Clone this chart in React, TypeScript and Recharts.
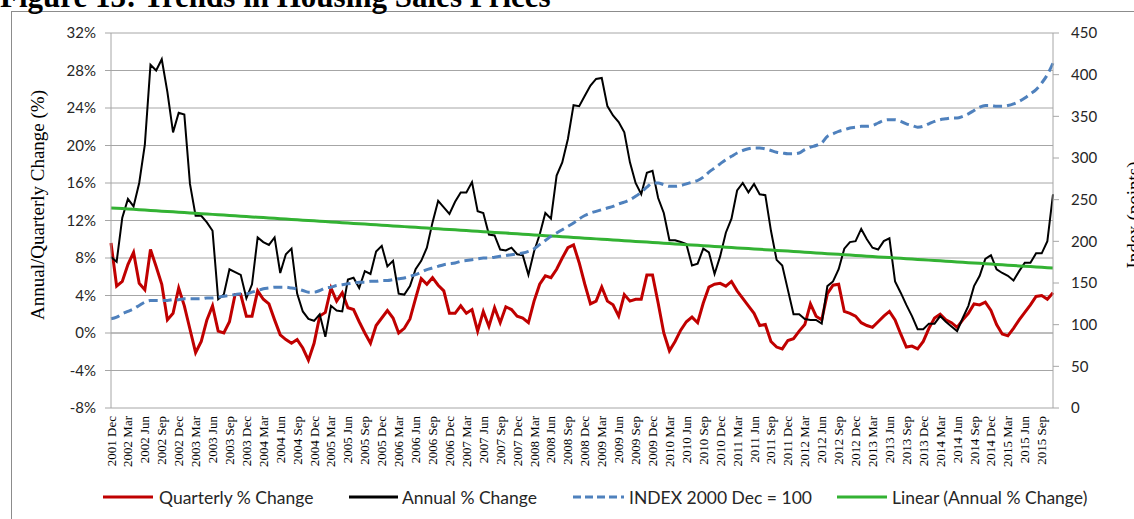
import { ComposedChart, Line, XAxis, YAxis, CartesianGrid, ReferenceLine } from "recharts";

const MONTH_NAMES = ["Jan", "Feb", "Mar", "Apr", "May", "Jun", "Jul", "Aug", "Sep", "Oct", "Nov", "Dec"];

// monthly categories, 2001 Dec .. 2015 Nov
const categories: string[] = [];
for (let i = 0; i < 168; i++) {
  const m = (11 + i) % 12;
  const y = 2001 + Math.floor((11 + i) / 12);
  categories.push(`${y} ${MONTH_NAMES[m]}`);
}

// Quarterly % change (left axis, %)
const quarterlyChange = [
  9.6, 5.0, 5.5, 7.3, 8.6, 5.3, 4.6, 8.9, 7.1, 5.2, 1.4, 2.1,
  4.8, 2.9, 0.4, -2.1, -0.9, 1.4, 2.9, 0.2, 0.0, 1.2, 4.1, 4.1,
  1.8, 1.8, 4.5, 3.6, 3.1, 1.4, -0.2, -0.7, -1.1, -0.7, -1.6, -2.9,
  -1.1, 1.8, 2.2, 4.8, 3.4, 4.3, 2.7, 2.5, 1.2, 0.0, -1.1, 0.8,
  1.6, 2.4, 1.6, 0.0, 0.5, 1.5, 3.7, 5.8, 5.2, 5.9, 5.1, 4.5,
  2.1, 2.1, 2.9, 2.1, 2.5, 0.2, 2.3, 0.7, 2.7, 1.1, 2.8, 2.5,
  1.8, 1.6, 1.1, 3.4, 5.2, 6.1, 5.9, 6.8, 8.0, 9.1, 9.4, 7.5,
  5.2, 3.1, 3.4, 4.9, 3.4, 3.0, 1.8, 4.1, 3.4, 3.6, 3.6, 6.2,
  6.2, 3.2, 0.0, -1.9, -0.9, 0.3, 1.2, 1.7, 1.1, 3.2, 4.9, 5.2,
  5.3, 5.0, 5.5, 4.5, 3.7, 2.9, 2.1, 0.8, 0.9, -0.9, -1.5, -1.7,
  -0.8, -0.6, 0.2, 0.9, 3.1, 1.8, 1.4, 4.2, 5.1, 5.2, 2.3, 2.1,
  1.8, 1.1, 0.8, 0.6, 1.2, 1.8, 2.3, 1.4, -0.1, -1.5, -1.4, -1.7,
  -0.9, 0.5, 1.6, 2.0, 1.4, 1.1, 0.6, 1.4, 2.1, 3.1, 3.0, 3.3,
  2.4, 0.9, -0.1, -0.3, 0.5, 1.4, 2.2, 3.0, 3.9, 4.0, 3.6, 4.3,
];

// Annual % change (left axis, %)
const annualChange = [
  8.1, 7.6, 12.3, 14.3, 13.5, 16.0, 20.1, 28.6, 28.0, 29.2, 25.7, 21.4,
  23.5, 23.3, 15.9, 12.5, 12.5, 11.8, 10.9, 3.6, 4.1, 6.8, 6.5, 6.2,
  3.7, 5.2, 10.2, 9.7, 9.4, 10.2, 6.4, 8.4, 9.0, 4.2, 2.3, 1.5,
  1.3, 2.0, -0.4, 2.9, 2.4, 2.3, 5.7, 5.9, 4.8, 6.6, 6.3, 8.7,
  9.3, 7.1, 7.7, 4.2, 4.1, 5.0, 6.8, 7.7, 9.1, 11.8, 14.1, 13.4,
  12.7, 14.0, 15.0, 15.0, 16.1, 13.0, 12.8, 10.5, 10.4, 8.9, 8.8, 9.1,
  8.4, 8.3, 6.2, 8.7, 10.5, 12.8, 12.2, 16.8, 18.2, 20.7, 24.3, 24.2,
  25.3, 26.4, 27.1, 27.2, 24.2, 23.2, 22.5, 21.4, 18.2, 16.0, 14.8, 17.1,
  17.3, 14.4, 12.8, 9.9, 9.9, 9.7, 9.5, 7.2, 7.4, 9.0, 8.6, 6.3,
  8.2, 10.7, 12.2, 15.2, 16.0, 15.0, 15.9, 14.8, 14.7, 10.9, 7.8, 7.2,
  4.6, 2.0, 2.0, 1.5, 1.4, 1.4, 1.0, 5.0, 5.5, 6.8, 9.0, 9.7,
  9.8, 11.1, 10.0, 9.1, 8.9, 9.8, 10.1, 5.5, 4.3, 3.0, 1.8, 0.4,
  0.4, 1.0, 1.0, 1.8, 1.2, 0.7, 0.2, 1.6, 2.9, 5.0, 6.1, 7.9,
  8.3, 6.8, 6.4, 6.1, 5.6, 6.6, 7.5, 7.5, 8.5, 8.5, 9.8, 14.8,
];

// INDEX 2000 Dec = 100 (right axis, points)
const indexPoints = [
  107, 109, 113, 116, 119, 123, 127, 129, 129, 129, 129, 130,
  130, 131, 131, 131, 131, 132, 132, 133, 134, 135, 136, 137,
  137, 139, 141, 143, 144, 145, 145, 145, 144, 143, 141, 139,
  139, 141, 144, 145, 147, 148, 149, 150, 151, 151, 152, 152,
  153, 153, 154, 155, 156, 158, 160, 163, 166, 168, 170, 172,
  173, 174, 176, 177, 178, 179, 180, 180, 181, 182, 183, 184,
  185, 186, 188, 191, 196, 201, 206, 210, 214, 218, 222, 227,
  231, 234, 236, 238, 240, 242, 245, 247, 250, 254, 259, 265,
  270, 270, 268, 266, 266, 267, 269, 271, 273, 277, 283, 288,
  293, 298, 302, 306, 309, 311, 312, 312, 311, 309, 307, 306,
  305, 305, 306, 310, 313, 315, 318, 326, 329, 332, 334, 336,
  337, 338, 338, 339, 342, 345, 346, 346, 344, 341, 339, 337,
  338, 341, 344, 346, 347, 348, 348, 350, 353, 357, 361, 363,
  363, 362, 362, 363, 365, 368, 372, 377, 382, 390, 400, 414,
];

const leftTicks = [-8, -4, 0, 4, 8, 12, 16, 20, 24, 28, 32];
const rightTicks = [0, 50, 100, 150, 200, 250, 300, 350, 400, 450];

// Linear trendline of the annual series (least squares, like Excel)
const n = annualChange.length;
const meanX = (n - 1) / 2;
const meanY = annualChange.reduce((s, v) => s + v, 0) / n;
let sxy = 0;
let sxx = 0;
annualChange.forEach((v, i) => {
  sxy += (i - meanX) * (v - meanY);
  sxx += (i - meanX) * (i - meanX);
});
const slope = sxy / sxx;
const intercept = meanY - slope * meanX;

const data = categories.map((month, i) => ({
  month,
  quarterly: quarterlyChange[i],
  annual: annualChange[i],
  index: indexPoints[i],
  trend: intercept + slope * i,
}));

const SANS = "Lato, 'Noto Sans', sans-serif";
const SERIF = "'Liberation Serif', 'Times New Roman', serif";

const MonthTick = (props: any) => {
  const { x, y, payload } = props;
  return (
    <text
      x={x}
      y={y}
      transform={`rotate(-90, ${x}, ${y})`}
      textAnchor="end"
      dominantBaseline="central"
      fontFamily={SERIF}
      fontSize={13}
      fill="#000"
    >
      {payload.value}
    </text>
  );
};

const legendItems = [
  { label: "Quarterly % Change", color: "#C00000", dash: undefined, lineX: 103, lineW: 50, textX: 159 },
  { label: "Annual % Change", color: "#000000", dash: undefined, lineX: 349, lineW: 49, textX: 402 },
  { label: "INDEX 2000 Dec = 100", color: "#4F81BD", dash: "8 4", lineX: 573, lineW: 51, textX: 629 },
  { label: "Linear (Annual % Change)", color: "#33B233", dash: undefined, lineX: 837, lineW: 50, textX: 892 },
];

export default function App() {
  return (
    <div style={{ position: "absolute", left: 0, top: 0, width: 1134, height: 519, overflow: "hidden", background: "#fff" }}>
      <div style={{ position: "absolute", left: 11, top: 11, width: 1200, height: 600, border: "1px solid #8c8c8c" }} />
      <div style={{ position: "absolute", left: 0, top: 0 }}>
        <ComposedChart width={1134} height={519} data={data} margin={{ top: 33, right: 0, bottom: 0, left: 0 }}>
          <CartesianGrid yAxisId="left" horizontal vertical={false} stroke="#a6a6a6" />
          <XAxis
            dataKey="month"
            interval={2}
            tick={<MonthTick />}
            tickLine={false}
            axisLine={false}
            tickSize={0}
            tickMargin={8}
            height={111}
          />
          <YAxis
            yAxisId="left"
            domain={[-8, 32]}
            ticks={leftTicks}
            tickFormatter={(v: number) => `${v}%`}
            width={111}
            stroke="#a6a6a6"
            tickSize={6}
            tickMargin={9}
            tick={{ fontFamily: SANS, fontSize: 15, fill: "#262626" }}
          />
          <YAxis
            yAxisId="right"
            orientation="right"
            domain={[0, 450]}
            ticks={rightTicks}
            width={81}
            stroke="#a6a6a6"
            tickSize={6}
            tickMargin={12}
            tick={{ fontFamily: SANS, fontSize: 15, fill: "#262626" }}
          />
          <ReferenceLine yAxisId="left" y={0} stroke="#a6a6a6" />
          <Line yAxisId="left" dataKey="quarterly" type="linear" stroke="#C00000" strokeWidth={3} dot={false} isAnimationActive={false} />
          <Line yAxisId="left" dataKey="annual" type="linear" stroke="#000000" strokeWidth={2} dot={false} isAnimationActive={false} />
          <Line yAxisId="left" dataKey="trend" type="linear" stroke="#33B233" strokeWidth={3} dot={false} isAnimationActive={false} />
          <Line yAxisId="right" dataKey="index" type="monotone" stroke="#4F81BD" strokeWidth={3} strokeDasharray="9 5" dot={false} isAnimationActive={false} />
        </ComposedChart>
      </div>
      <svg width={1134} height={519} style={{ position: "absolute", left: 0, top: 0, pointerEvents: "none" }}>
        <text x={0} y={7} fontFamily={SERIF} fontWeight="bold" fontSize={31} fill="#000">
          Figure 13: Trends in Housing Sales Prices
        </text>
        <text x={44} y={205} transform="rotate(-90, 44, 205)" textAnchor="middle" fontFamily={SERIF} fontSize={19} fill="#000">
          Annual/Quarterly Change (%)
        </text>
        <text x={1140} y={215} transform="rotate(-90, 1140, 215)" textAnchor="middle" fontFamily={SERIF} fontSize={19} fill="#000">
          Index (points)
        </text>
        {legendItems.map((it) => (
          <g key={it.label}>
            <line x1={it.lineX} x2={it.lineX + it.lineW} y1={497} y2={497} stroke={it.color} strokeWidth={3} strokeDasharray={it.dash} />
            <text x={it.textX} y={497} dominantBaseline="central" fontFamily={SANS} fontSize={17.5} fill="#262626">
              {it.label}
            </text>
          </g>
        ))}
      </svg>
    </div>
  );
}
